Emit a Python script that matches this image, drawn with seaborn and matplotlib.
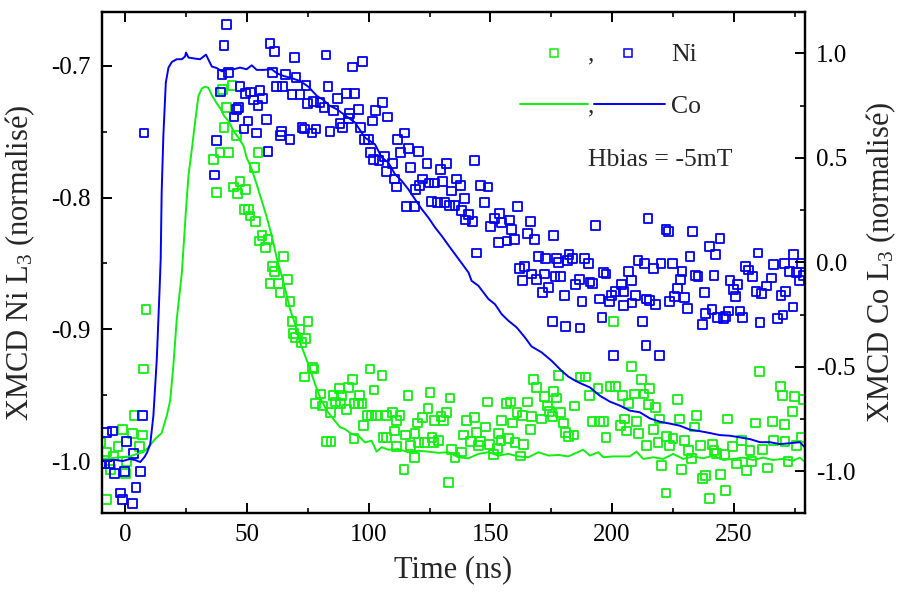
import matplotlib
matplotlib.use("Agg")
import matplotlib.pyplot as plt
from matplotlib.lines import Line2D
from matplotlib.ticker import MultipleLocator
import seaborn as sns
import pandas as pd

# ---------------- data ----------------
# Ni L3 XMCD, green squares (left axis)
t_ni_green = [-10.0, -7.8, -7.5, -6.1, -4.8, -2.9, -1.2, 0.1, 0.4, 2.9, 3.7, 5.9, 7.0, 7.5, 8.6,
              36.3, 37.4, 39.0, 40.1, 40.6, 41.5, 42.3, 43.9, 44.5, 45.6, 46.1, 47.2, 48.9, 49.4,
              50.8, 51.3, 53.0, 53.5, 54.6, 55.1, 56.2, 57.6, 58.7, 59.5, 60.6, 61.5, 63.1, 63.6,
              64.9, 66.6, 67.7, 68.5, 69.1, 69.9, 71.8, 72.4, 73.5, 74.3, 75.1, 76.8, 77.6, 78.1,
              80.3, 80.9, 82.8, 84.2, 84.5, 85.5, 86.3, 88.0, 88.4, 88.8, 90.9, 91.7, 93.5, 94.0,
              94.3, 95.8, 96.2, 97.3, 98.0, 99.3, 100.6, 101.2, 102.2, 103.4, 105.5, 105.9, 107.2,
              107.4, 109.7, 110.5, 111.3, 111.6, 112.9, 114.5, 115.2, 116.2, 117.2, 118.8, 119.0,
              120.0, 120.5, 122.2, 123.0, 124.4, 125.2, 126.0, 126.7, 127.1, 128.8, 129.7, 130.7,
              132.0, 132.9, 133.4, 134.1, 135.5, 138.0, 139.0, 140.1, 141.8, 143.4, 144.2, 145.0,
              146.1, 148.0, 148.9, 149.5, 151.3, 152.8, 153.3, 154.4, 154.6, 156.5, 157.4, 158.2,
              159.0, 160.1, 160.9, 162.3, 163.1, 163.6, 165.3, 166.4, 166.9, 167.8, 168.9, 171.1,
              172.2, 173.3, 174.4, 175.5, 176.0, 177.1, 177.9, 178.8, 180.0, 180.8, 182.0, 184.3,
              184.7, 186.8, 189.0, 190.6, 191.7, 194.2, 194.7, 196.6, 197.5, 199.1, 200.5, 201.5,
              203.3, 204.3, 205.2, 206.0, 206.8, 208.1, 209.2, 209.9, 210.9, 212.2, 213.1, 214.1,
              214.9, 215.5, 217.0, 217.9, 218.8, 219.6, 220.4, 222.1, 222.3, 223.7, 225.0, 227.0,
              227.8, 228.6, 229.7, 231.4, 232.7, 233.8, 234.7, 236.2, 237.1, 238.5, 239.9, 241.2,
              241.8, 242.8, 244.5, 246.1, 246.7, 247.5, 249.4, 251.1, 253.0, 255.2, 256.6, 257.4,
              258.8, 260.6, 261.7, 263.7, 265.9, 266.4, 269.2, 270.0, 270.8, 271.0, 272.2, 274.1,
              275.0, 275.7, 277.6, 278.5]
ni_green = [-0.986, -1.029, -0.993, -1.006, -0.996, -0.989, -0.976, -1.009, -1.000, -0.979, -0.965,
            -0.989, -0.980, -0.930, -0.885,
            -0.771, -0.796, -0.766, -0.718, -0.747, -0.732, -0.766, -0.715, -0.792, -0.753, -0.797,
            -0.788, -0.809, -0.794, -0.809, -0.814, -0.777, -0.818, -0.766, -0.833, -0.829, -0.838,
            -0.832, -0.865, -0.852, -0.856, -0.865, -0.872, -0.845, -0.862, -0.879, -0.894, -0.903,
            -0.906, -0.900, -0.910, -0.936, -0.907, -0.894, -0.929, -0.930, -0.956, -0.949, -0.958,
            -0.985, -0.963, -0.985, -0.950, -0.955, -0.945, -0.956, -0.950, -0.961, -0.944, -0.938,
            -0.983, -0.956, -0.956, -0.950, -0.956, -0.973, -0.965, -0.930, -0.965, -0.946, -0.965,
            -0.935, -0.982, -0.982, -0.965, -0.963, -0.977, -0.989, -0.969, -0.965, -1.006, -0.980,
            -0.950, -0.988, -0.997, -0.979, -0.971, -0.986, -0.967, -0.986, -0.960, -0.948, -0.982,
            -0.986, -0.969, -0.984, -0.966, -0.969, -0.963, -1.016, -0.952, -0.991, -0.997, -0.993,
            -0.980, -0.969, -0.985, -0.967, -0.978, -0.988, -0.985, -0.974, -0.955, -0.987, -0.995,
            -0.990, -0.979, -0.984, -0.969, -0.956, -0.983, -0.955, -0.971, -0.986, -0.963, -0.996,
            -0.965, -0.987, -0.955, -0.976, -0.966, -0.938, -0.944, -0.968, -0.951, -0.958, -0.962,
            -0.966, -0.947, -0.952, -0.935, -0.963, -0.971, -0.978, -0.981, -0.980, -0.958, -0.936,
            -0.936, -0.950, -0.970, -0.945, -0.970, -0.970, -0.982, -0.943, -0.894, -0.943, -0.973,
            -0.950, -0.968, -0.977, -0.956, -0.928, -0.949, -0.970, -0.979, -0.938, -0.949, -0.988,
            -0.957, -0.945, -0.976, -0.959, -0.986, -0.968, -1.003, -1.024, -0.981, -0.988, -0.983,
            -0.953, -0.968, -1.006, -0.984, -0.992, -0.998, -0.974, -0.965, -0.988, -1.013, -1.011,
            -1.028, -0.987, -0.992, -0.994, -1.010, -0.995, -1.022, -0.968, -0.989, -1.002, -0.984,
            -1.007, -0.992, -1.000, -0.971, -0.932, -0.991, -1.005, -0.970, -0.984, -0.943, -0.950,
            -0.972, -0.985, -1.000, -0.962, -0.951, -0.988, -0.982, -0.953]

# Ni L3 XMCD, blue squares (left axis)
t_ni_blue = [-10.0, -8.6, -7.8, -6.2, -5.3, -4.5, -2.0, -1.2, -0.4, 0.4, 2.9, 3.4, 4.5, 6.2, 7.0, 7.7,
             36.6, 37.4, 39.3, 39.8, 40.6, 41.5, 42.4, 44.7, 45.6, 46.4, 47.2, 48.8, 49.4, 50.5,
             51.6, 52.7, 53.8, 54.6, 55.4, 56.5, 57.9, 58.7, 59.5, 60.4, 61.4, 62.2, 63.7, 64.3,
             64.7, 65.9, 67.7, 68.5, 69.4, 70.2, 71.8, 72.6, 73.7, 74.3, 74.8, 76.7, 77.3, 78.4,
             80.0, 81.7, 82.5, 83.3, 84.1, 85.5, 87.1, 88.2, 89.2, 90.9, 91.7, 92.2, 93.3, 94.1,
             95.8, 96.6, 97.4, 98.3, 99.9, 100.7, 101.5, 102.1, 102.9, 104.3, 105.6, 106.5, 107.3,
             107.8, 109.8, 110.6, 111.4, 111.9, 113.0, 114.7, 115.5, 116.3, 117.2, 118.8, 119.3,
             120.4, 120.9, 122.0, 124.0, 124.8, 125.9, 127.0, 128.4, 129.4, 130.3, 131.1, 131.9,
             133.3, 134.1, 135.5, 136.0, 137.7, 138.2, 139.3, 139.9, 141.0, 142.6, 143.4, 144.2,
             145.9, 147.6, 149.0, 150.0, 151.7, 153.2, 153.8, 154.6, 156.8, 157.9, 158.7, 160.0,
             161.2, 162.0, 163.1, 163.9, 165.3, 166.4, 166.9, 168.0, 168.8, 169.9, 171.3, 172.1,
             172.7, 173.8, 175.4, 176.0, 176.5, 177.0, 178.1, 178.7, 180.4, 180.9, 181.6, 182.3,
             183.8, 184.9, 186.5, 186.8, 187.6, 188.7, 190.4, 190.9, 192.0, 193.1, 194.9, 195.8,
             196.4, 197.5, 199.0, 199.6, 200.7, 201.3, 204.0, 204.6, 204.8, 206.7, 208.1, 208.2,
             209.5, 210.6, 212.5, 213.3, 213.9, 214.2, 214.7, 215.3, 217.0, 217.8, 219.6, 220.1,
             222.1, 223.2, 223.5, 224.8, 225.6, 227.0, 228.1, 228.7, 229.8, 231.1, 232.0, 233.0,
             234.2, 235.3, 237.2, 238.0, 238.5, 239.9, 241.0, 241.8, 242.6, 243.2, 244.3, 245.9,
             246.7, 247.8, 248.4, 249.7, 250.8, 251.6, 252.5, 253.6, 254.9, 256.1, 257.7, 259.1,
             259.9, 260.7, 261.5, 263.4, 265.3, 266.4, 267.8, 269.4, 270.2, 270.8, 271.3, 272.9,
             274.3, 274.6, 275.7, 277.1, 277.6, 278.7]
ni_blue = [-1.002, -1.002, -0.978, -1.002, -0.977, -1.009, -1.024, -1.029, -1.008, -0.985, -1.032,
           -0.994, -1.020, -1.008, -0.965, -0.751,
           -0.783, -0.757, -0.720, -0.707, -0.685, -0.669, -0.705, -0.739, -0.733, -0.732, -0.716,
           -0.748, -0.721, -0.742, -0.720, -0.726, -0.751, -0.730, -0.719, -0.725, -0.741, -0.765,
           -0.683, -0.705, -0.689, -0.716, -0.753, -0.750, -0.716, -0.707, -0.756, -0.722, -0.694,
           -0.709, -0.722, -0.747, -0.748, -0.715, -0.729, -0.751, -0.727, -0.748, -0.728, -0.732,
           -0.692, -0.716, -0.750, -0.734, -0.725, -0.744, -0.747, -0.721, -0.740, -0.736, -0.701,
           -0.721, -0.733, -0.747, -0.697, -0.756, -0.756, -0.766, -0.742, -0.771, -0.734, -0.772,
           -0.728, -0.769, -0.780, -0.739, -0.774, -0.786, -0.792, -0.756, -0.766, -0.751, -0.807,
           -0.763, -0.777, -0.807, -0.794, -0.765, -0.791, -0.786, -0.774, -0.789, -0.803, -0.789,
           -0.804, -0.779, -0.788, -0.804, -0.774, -0.806, -0.795, -0.806, -0.786, -0.791, -0.810,
           -0.801, -0.817, -0.813, -0.818, -0.772, -0.842, -0.791, -0.804, -0.792, -0.822, -0.816,
           -0.834, -0.812, -0.819, -0.833, -0.817, -0.824, -0.832, -0.807, -0.854, -0.863, -0.852,
           -0.827, -0.818, -0.858, -0.832, -0.862, -0.845, -0.872, -0.858, -0.846, -0.868, -0.894,
           -0.829, -0.860, -0.846, -0.849, -0.860, -0.874, -0.898, -0.848, -0.843, -0.846, -0.866,
           -0.862, -0.899, -0.879, -0.846, -0.850, -0.864, -0.865, -0.821, -0.877, -0.891, -0.857,
           -0.858, -0.879, -0.874, -0.920, -0.871, -0.866, -0.882, -0.871, -0.856, -0.863, -0.880,
           -0.874, -0.848, -0.894, -0.850, -0.912, -0.877, -0.816, -0.878, -0.854, -0.881, -0.920,
           -0.850, -0.824, -0.826, -0.879, -0.850, -0.875, -0.869, -0.862, -0.856, -0.876, -0.884,
           -0.845, -0.826, -0.859, -0.860, -0.896, -0.872, -0.888, -0.837, -0.885, -0.859, -0.843,
           -0.891, -0.831, -0.892, -0.890, -0.886, -0.863, -0.870, -0.875, -0.866, -0.886, -0.891,
           -0.852, -0.855, -0.860, -0.871, -0.842, -0.895, -0.873, -0.867, -0.861, -0.851, -0.892,
           -0.874, -0.889, -0.850, -0.871, -0.856, -0.883, -0.843, -0.857, -0.863, -0.850, -0.859]

# Co L3 XMCD, green line (right axis)
t_co_green = [-10.0, -6.2, -2.1, 2.1, 4.8, 7.5, 9.6, 12.3, 15.0, 17.1, 18.5, 19.8, 21.2, 23.3,
              25.0, 26.0, 27.4, 28.7, 30.1, 31.5, 32.8, 34.2, 35.6, 37.4, 39.3, 40.6, 42.4,
              44.5, 46.5, 48.6, 49.9, 52.0, 54.0, 56.1, 58.2, 60.2, 62.3, 64.3, 66.4, 67.7,
              69.8, 71.8, 73.9, 75.9, 78.0, 80.0, 82.8, 85.5, 88.3, 90.3, 93.0, 95.8, 98.5,
              101.2, 103.3, 105.4, 108.1, 112.2, 116.3, 120.4, 124.5, 128.7, 132.8, 136.9,
              141.0, 145.1, 149.2, 153.3, 157.4, 161.5, 165.6, 169.8, 173.9, 178.0, 182.0,
              188.1, 190.9, 194.3, 196.4, 200.5, 207.3, 210.0, 212.8, 216.9, 221.0, 225.1,
              229.2, 233.3, 237.4, 241.5, 245.6, 249.7, 253.8, 257.9, 262.0, 266.1, 270.2,
              274.3, 277.1, 279.1]
co_green = [-0.940, -0.937, -0.932, -0.928, -0.916, -0.908, -0.884, -0.845, -0.816, -0.733, -0.661,
            -0.494, -0.271, -0.048, 0.255, 0.414, 0.542, 0.669, 0.797, 0.832, 0.841, 0.835, 0.800,
            0.765, 0.733, 0.701, 0.677, 0.629, 0.597, 0.558, 0.502, 0.446, 0.374, 0.295, 0.215,
            0.127, 0.020, -0.064, -0.159, -0.223, -0.295, -0.383, -0.446, -0.510, -0.582, -0.645,
            -0.709, -0.749, -0.789, -0.797, -0.821, -0.829, -0.861, -0.853, -0.905, -0.884, -0.896,
            -0.893, -0.908, -0.901, -0.905, -0.911, -0.908, -0.932, -0.937, -0.916, -0.908, -0.924,
            -0.916, -0.928, -0.932, -0.908, -0.924, -0.921, -0.928, -0.896, -0.924, -0.908, -0.932,
            -0.928, -0.928, -0.905, -0.940, -0.932, -0.940, -0.916, -0.940, -0.928, -0.937, -0.924,
            -0.945, -0.940, -0.934, -0.945, -0.934, -0.945, -0.940, -0.948, -0.934, -0.953]

# Co L3 XMCD, blue line (right axis)
t_co_blue = [-10.0, -7.0, -4.0, -1.0, 2.0, 4.0, 6.2, 8.0, 9.0, 10.3, 11.6, 13.0, 14.1, 14.6,
             15.0, 15.7, 16.7, 17.8, 19.2, 21.2, 23.3, 24.6, 25.0, 26.0, 28.7, 30.8, 33.2, 35.6,
             37.6, 39.7, 41.7, 44.5, 47.2, 49.9, 52.0, 54.0, 56.8, 60.2, 62.3, 65.0, 67.7, 71.8,
             75.2, 78.7, 81.4, 84.1, 86.9, 90.3, 94.4, 98.5, 102.6, 105.4, 108.1, 110.8, 113.6,
             116.3, 119.0, 121.8, 124.5, 127.3, 130.0, 133.4, 136.9, 141.0, 142.3, 145.1, 149.2,
             151.9, 154.6, 157.4, 160.8, 164.2, 166.9, 171.0, 175.1, 179.2, 182.0, 184.7, 186.8,
             190.9, 195.0, 199.1, 203.2, 207.3, 211.4, 215.5, 219.6, 223.7, 227.8, 231.9, 236.0,
             240.1, 244.2, 248.4, 252.5, 256.6, 260.7, 264.8, 268.9, 273.0, 277.1, 279.1]
co_blue = [-0.945, -0.950, -0.945, -0.950, -0.940, -0.945, -0.955, -0.930, -0.909, -0.869, -0.733,
           -0.462, -0.142, 0.016, 0.335, 0.608, 0.860, 0.932, 0.959, 0.972, 0.972, 0.985, 1.004,
           0.980, 0.975, 0.972, 0.994, 0.937, 0.930, 0.914, 0.924, 0.924, 0.932, 0.924, 0.943,
           0.921, 0.921, 0.924, 0.905, 0.892, 0.884, 0.868, 0.841, 0.797, 0.777, 0.749, 0.733,
           0.704, 0.669, 0.597, 0.565, 0.502, 0.478, 0.422, 0.390, 0.350, 0.303, 0.255, 0.215,
           0.167, 0.127, 0.072, 0.017, -0.048, -0.088, -0.112, -0.175, -0.200, -0.247, -0.279,
           -0.311, -0.359, -0.402, -0.430, -0.470, -0.518, -0.546, -0.565, -0.577, -0.598, -0.638,
           -0.666, -0.685, -0.709, -0.717, -0.746, -0.762, -0.771, -0.781, -0.800, -0.807, -0.816,
           -0.826, -0.829, -0.837, -0.845, -0.860, -0.860, -0.869, -0.865, -0.860, -0.884]

x_ticks = [0, 50, 100, 150, 200, 250]
left_ticks = [-1.0, -0.9, -0.8, -0.7]
right_ticks = [-1.0, -0.5, 0.0, 0.5, 1.0]

GREEN = "#11ee11"
BLUE = "#0000f0"

# ---------------- style ----------------
sns.set_theme(style="ticks")
plt.rcParams["font.family"] = ["Liberation Serif", "DejaVu Serif"]
plt.rcParams["mathtext.fontset"] = "custom"
plt.rcParams["mathtext.rm"] = "Liberation Serif"
plt.rcParams["mathtext.it"] = "Liberation Serif:italic"

fig = plt.figure(figsize=(8.98, 5.96), dpi=100)
ax = fig.add_axes([0.1136, 0.1388, 0.7828, 0.8418])
ax2 = ax.twinx()

df_g = pd.DataFrame({"t": t_ni_green, "v": ni_green})
df_b = pd.DataFrame({"t": t_ni_blue, "v": ni_blue})
df_cg = pd.DataFrame({"t": t_co_green, "v": co_green})
df_cb = pd.DataFrame({"t": t_co_blue, "v": co_blue})

sq = dict(marker="s", s=40, linewidth=1.3, legend=False, zorder=3)
sns.scatterplot(data=df_g, x="t", y="v", ax=ax, color=GREEN, facecolor="none",
                edgecolor=GREEN, **sq)
sns.scatterplot(data=df_b, x="t", y="v", ax=ax, color=BLUE, facecolor="none",
                edgecolor=BLUE, **sq)

sns.lineplot(data=df_cg, x="t", y="v", ax=ax2, color=GREEN, linewidth=1.4,
             estimator=None, sort=False, legend=False)
sns.lineplot(data=df_cb, x="t", y="v", ax=ax2, color=BLUE, linewidth=1.4,
             estimator=None, sort=False, legend=False)

# ---------------- axes ----------------
ax.set_xlim(-9.5, 279.2)
ax.set_ylim(-1.0394, -0.659)
ax2.set_ylim(-1.2, 1.2)

ax.set_xticks(x_ticks)
ax.set_xticklabels([str(v) for v in x_ticks])
ax.xaxis.set_minor_locator(MultipleLocator(25))
ax.set_yticks(left_ticks)
ax.set_yticklabels([f"{v:.1f}" for v in left_ticks])
ax.yaxis.set_minor_locator(MultipleLocator(0.05))
ax2.set_yticks(right_ticks)
ax2.set_yticklabels([f"{v:.1f}" for v in right_ticks])
ax2.yaxis.set_minor_locator(MultipleLocator(0.25))

for a in (ax, ax2):
    for sp in a.spines.values():
        sp.set_linewidth(1.6)
        sp.set_color("black")
        sp.set_visible(True)

ax.tick_params(axis="both", which="major", direction="in", length=7.5, width=1.4,
               labelsize=18, colors="black", pad=8)
ax.tick_params(axis="both", which="minor", direction="in", length=3.5, width=1.4)
ax.tick_params(axis="x", which="both", top=True, bottom=True)
ax.tick_params(axis="y", which="both", left=True, right=False)
ax2.tick_params(axis="y", which="major", direction="in", length=7.5, width=1.4,
                labelsize=18, colors="black", pad=8)
ax2.tick_params(axis="y", which="minor", direction="in", length=3.5, width=1.4)

ax.set_xlabel("Time (ns)", fontsize=22, labelpad=6)
ax.set_ylabel("XMCD Ni L$_3$ (normalisé)", fontsize=22)
ax2.set_ylabel("XMCD Co L$_3$ (normalisé)", fontsize=22)
ax.yaxis.set_label_coords(-0.093, 0.5)
ax2.yaxis.set_label_coords(1.084, 0.5)

# ---------------- legend (drawn by hand, axes fraction) ----------------
tr = ax2.transAxes
ax2.add_line(Line2D([0.643], [0.918], transform=tr, marker="s", markersize=5.2,
                    markerfacecolor="none", markeredgecolor=GREEN, markeredgewidth=1.1,
                    linestyle="none"))
ax2.add_line(Line2D([0.748], [0.918], transform=tr, marker="s", markersize=5.2,
                    markerfacecolor="none", markeredgecolor=BLUE, markeredgewidth=1.1,
                    linestyle="none"))
ax2.text(0.6965, 0.903, ",", transform=tr, fontsize=18, ha="center", va="baseline")
ax2.text(0.810, 0.901, "Ni", transform=tr, fontsize=18.5, ha="left", va="baseline")

ax2.add_line(Line2D([0.594, 0.692], [0.8167, 0.8167], transform=tr, color=GREEN, lw=1.4))
ax2.add_line(Line2D([0.700, 0.8015], [0.8167, 0.8167], transform=tr, color=BLUE, lw=1.4))
ax2.text(0.6965, 0.799, ",", transform=tr, fontsize=18, ha="center", va="baseline")
ax2.text(0.809, 0.7976, "Co", transform=tr, fontsize=18.5, ha="left", va="baseline")

ax2.text(0.692, 0.693, "Hbias = -5mT", transform=tr, fontsize=18.5, ha="left", va="baseline")

fig.savefig("out.png", dpi=100)
